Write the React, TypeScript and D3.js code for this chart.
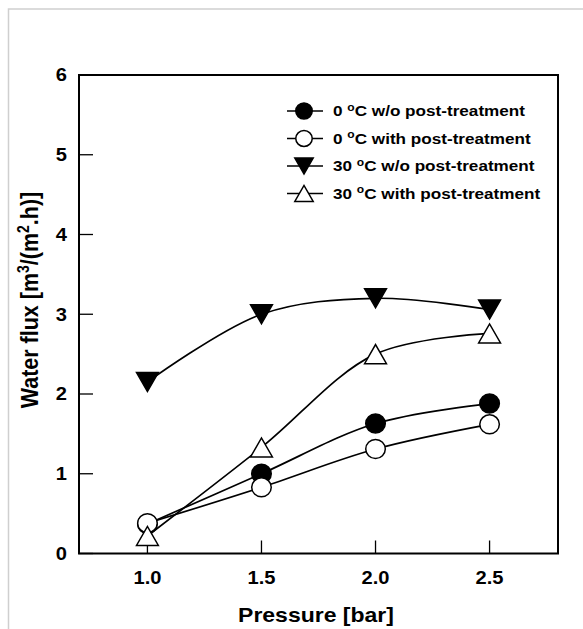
import React from 'react';
import * as d3 from 'd3';

// pressure [bar]
const pressure = [1.0, 1.5, 2.0, 2.5];

// water flux [m3/(m2.h)]
const flux0NoPost = [0.37, 1.0, 1.63, 1.88];
const flux0Post = [0.38, 0.83, 1.31, 1.62];
const flux30NoPost = [2.15, 3.0, 3.2, 3.06];
const flux30Post = [0.22, 1.33, 2.5, 2.76];

const seriesTemps = ['0', '0', '30', '30'];
const seriesTreat = ['w/o post-treatment', 'with post-treatment', 'w/o post-treatment', 'with post-treatment'];
const seriesMarkers = ['circleFilled', 'circleOpen', 'triDownFilled', 'triUpOpen'];

const xTicks = ['1.0', '1.5', '2.0', '2.5'];
const yTicks = ['0', '1', '2', '3', '4', '5', '6'];

const FONT = 'Liberation Sans, Arial, sans-serif';
const SX = 1.15; // the source picture is stretched sideways

const left = 79, right = 558, top = 75, bottom = 553.5;

function Marker({ kind, x, y, s }: { kind: string; x: number; y: number; s: number }) {
  const fill = kind.endsWith('Filled') ? '#000' : '#fff';
  if (kind.startsWith('circle')) {
    return <ellipse cx={x} cy={y} rx={s * 1.03} ry={s} fill={fill} stroke="#000" strokeWidth={1.5} />;
  }
  const w = s * 1.15, h = s;
  const d = kind.startsWith('triDown')
    ? `M${x - w},${y - h} L${x + w},${y - h} L${x},${y + h} Z`
    : `M${x - w},${y + h} L${x + w},${y + h} L${x},${y - h} Z`;
  return <path d={d} fill={fill} stroke="#000" strokeWidth={1.5} strokeLinejoin="miter" />;
}

function SText({ x, y, size, anchor = 'start', rotate = 0, children }: any) {
  return (
    <text
      transform={`translate(${x},${y}) scale(${SX},1) rotate(${rotate})`}
      fontFamily={FONT}
      fontWeight="bold"
      fontSize={size}
      textAnchor={anchor}
      fill="#000"
    >
      {children}
    </text>
  );
}

export default function App() {
  const x = d3.scaleLinear().domain([0.7, 2.8]).range([left, right]);
  const y = d3.scaleLinear().domain([0, 6]).range([bottom, top]);

  const allSeries = [flux0NoPost, flux0Post, flux30NoPost, flux30Post];
  const line = d3
    .line<number>()
    .x((_, i) => x(pressure[i]))
    .y(d => y(d))
    .curve(d3.curveCatmullRom.alpha(0.5));

  const legendY = [111, 138.5, 166, 193.5];

  return (
    <svg
      width={583}
      height={629}
      style={{ position: 'absolute', left: 0, top: 0, background: '#fff' }}
    >
      {/* outer frame */}
      <rect x={8.5} y={9} width={600} height={640} fill="none" stroke="#cfcfcf" strokeWidth={1.5} />

      {/* series lines */}
      {allSeries.map((s, i) => (
        <path key={'l' + i} d={line(s) || ''} fill="none" stroke="#000" strokeWidth={1.7} />
      ))}

      {/* ticks */}
      {yTicks.map(t => (
        <line key={'yt' + t} x1={left} x2={left + 14} y1={y(+t)} y2={y(+t)} stroke="#000" strokeWidth={1.3} />
      ))}
      {xTicks.map(t => (
        <line key={'xt' + t} x1={x(+t)} x2={x(+t)} y1={bottom} y2={bottom - 13} stroke="#000" strokeWidth={1.3} />
      ))}

      {/* markers */}
      {allSeries.map((s, i) =>
        s.map((v, j) => (
          <Marker key={'m' + i + '-' + j} kind={seriesMarkers[i]} x={x(pressure[j])} y={y(v)} s={9.5} />
        ))
      )}

      {/* plot frame */}
      <rect x={left} y={top} width={right - left} height={bottom - top} fill="none" stroke="#000" strokeWidth={2} />

      {/* tick labels */}
      {yTicks.map(t => (
        <SText key={'yl' + t} x={67} y={y(+t) + 6.3} size={17.5} anchor="end">{t}</SText>
      ))}
      {xTicks.map(t => (
        <SText key={'xl' + t} x={x(+t)} y={583.5} size={17.5} anchor="middle">{t}</SText>
      ))}

      {/* axis titles */}
      <SText x={316} y={622} size={20} anchor="middle">Pressure [bar]</SText>
      <SText x={38} y={300} size={21.5} anchor="middle" rotate={-90}>
        Water flux [m<tspan dy={-7.5} fontSize={14}>3</tspan>
        <tspan dy={7.5}>/(m</tspan>
        <tspan dy={-7.5} fontSize={14}>2</tspan>
        <tspan dy={7.5}>.h)]</tspan>
      </SText>

      {/* legend */}
      {seriesTemps.map((temp, i) => (
        <g key={'lg' + i}>
          <line x1={287} x2={323} y1={legendY[i]} y2={legendY[i]} stroke="#000" strokeWidth={1.6} />
          <Marker kind={seriesMarkers[i]} x={304} y={legendY[i]} s={8} />
          <SText x={333} y={legendY[i] + 5} size={14.9}>
            {temp} <tspan dy={-5.5} fontSize={10.5}>o</tspan>
            <tspan dy={5.5}>C {seriesTreat[i]}</tspan>
          </SText>
        </g>
      ))}
    </svg>
  );
}
